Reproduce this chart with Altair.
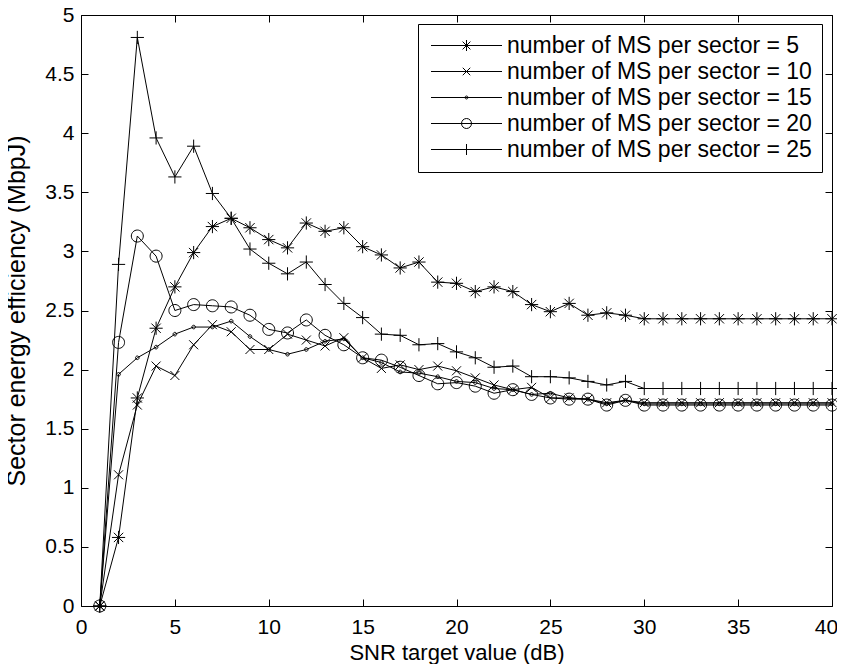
import altair as alt
import pandas as pd

# ---------------- data ----------------
snr_db = [1, 2, 3, 4, 5, 6, 7, 8, 9, 10,
          11, 12, 13, 14, 15, 16, 17, 18, 19, 20,
          21, 22, 23, 24, 25, 26, 27, 28, 29, 30,
          31, 32, 33, 34, 35, 36, 37, 38, 39, 40]

ms5 = [0.00, 0.58, 1.76, 2.35, 2.70, 2.99, 3.21, 3.28, 3.20, 3.10,
       3.03, 3.24, 3.17, 3.20, 3.04, 2.97, 2.86, 2.91, 2.74, 2.73,
       2.66, 2.70, 2.66, 2.55, 2.49, 2.56, 2.46, 2.48, 2.46, 2.43,
       2.43, 2.43, 2.43, 2.43, 2.43, 2.43, 2.43, 2.43, 2.43, 2.43]

ms10 = [0.00, 1.11, 1.70, 2.03, 1.95, 2.21, 2.38, 2.32, 2.17, 2.17,
        2.30, 2.25, 2.20, 2.27, 2.10, 2.01, 2.04, 2.00, 2.03, 1.99,
        1.93, 1.87, 1.83, 1.85, 1.76, 1.76, 1.75, 1.72, 1.74, 1.72,
        1.72, 1.72, 1.72, 1.72, 1.72, 1.72, 1.72, 1.72, 1.72, 1.72]

ms15 = [0.00, 1.96, 2.10, 2.19, 2.30, 2.36, 2.36, 2.41, 2.28, 2.17,
        2.13, 2.17, 2.24, 2.26, 2.10, 2.06, 1.98, 1.97, 1.94, 1.90,
        1.89, 1.84, 1.83, 1.79, 1.80, 1.76, 1.75, 1.71, 1.74, 1.71,
        1.71, 1.71, 1.71, 1.71, 1.71, 1.71, 1.71, 1.71, 1.71, 1.71]

ms20 = [0.00, 2.23, 3.13, 2.96, 2.50, 2.55, 2.54, 2.53, 2.46, 2.34,
        2.31, 2.42, 2.29, 2.21, 2.10, 2.08, 2.02, 1.95, 1.88, 1.89,
        1.86, 1.80, 1.83, 1.79, 1.76, 1.75, 1.75, 1.70, 1.74, 1.70,
        1.70, 1.70, 1.70, 1.70, 1.70, 1.70, 1.70, 1.70, 1.70, 1.70]

ms25 = [0.00, 2.89, 4.81, 3.96, 3.63, 3.89, 3.49, 3.28, 3.02, 2.90,
        2.81, 2.91, 2.72, 2.56, 2.44, 2.30, 2.29, 2.21, 2.22, 2.15,
        2.10, 2.02, 2.03, 1.94, 1.94, 1.93, 1.90, 1.87, 1.90, 1.84,
        1.84, 1.84, 1.84, 1.84, 1.84, 1.84, 1.84, 1.84, 1.84, 1.84]

series_labels = ["number of MS per sector = 5",
                 "number of MS per sector = 10",
                 "number of MS per sector = 15",
                 "number of MS per sector = 20",
                 "number of MS per sector = 25"]
series_values = [ms5, ms10, ms15, ms20, ms25]

x_ticks = [0, 5, 10, 15, 20, 25, 30, 35, 40]
y_ticks = [0, 0.5, 1, 1.5, 2, 2.5, 3, 3.5, 4, 4.5, 5]

# ---------------- marker shapes ----------------
asterisk = "M-1.1,0L1.1,0M0,-1.1L0,1.1M-0.78,-0.78L0.78,0.78M-0.78,0.78L0.78,-0.78"
xmark = "M-0.75,-0.75L0.75,0.75M-0.75,0.75L0.75,-0.75"
dot = "M-0.3,0A0.3,0.3 0 1,0 0.3,0A0.3,0.3 0 1,0 -0.3,0"
ring = "M-1,0A1,1 0 1,0 1,0A1,1 0 1,0 -1,0"
plus = "M-1.1,0L1.1,0M0,-1.1L0,1.1"
marker_paths = [asterisk, xmark, dot, ring, plus]
seg = "M-7.1,0L7.1,0"
legend_paths = [seg + p for p in marker_paths]

rows = []
for label, vals in zip(series_labels, series_values):
    for xv, yv in zip(snr_db, vals):
        rows.append({"snr": xv, "eff": yv, "series": label})
df = pd.DataFrame(rows)

FONT = "Liberation Sans"
FS = 21

xscale = alt.Scale(domain=[0, 40], nice=False, zero=False)
yscale = alt.Scale(domain=[0, 5], nice=False, zero=False)

tick_style = dict(
    tickSize=7, offset=-7, domain=False, grid=False, tickColor="black",
    tickWidth=1, labelColor="black", labelFont=FONT, labelFontSize=FS,
    labelFlush=False, labelOverlap=False,
)
title_style = dict(titleFont=FONT, titleFontWeight="normal", titleColor="black")

x_main = alt.X("snr:Q", scale=xscale,
               axis=alt.Axis(values=x_ticks, labelPadding=10, titlePadding=5,
                             titleFontSize=22,
                             labelOffset={"condition": {"test": "datum.value == 40",
                                                        "value": -6},
                                          "value": 0},
                             **tick_style, **title_style),
               title="SNR target value (dB)")
y_main = alt.Y("eff:Q", scale=yscale,
               axis=alt.Axis(values=y_ticks, format="~g", labelPadding=7,
                             titlePadding=15, titleFontSize=25,
                             **tick_style, **title_style),
               title="Sector energy efficiency (MbpJ)")

x_plain = alt.X("snr:Q", scale=xscale, axis=None)
y_plain = alt.Y("eff:Q", scale=yscale, axis=None)

base = alt.Chart(df)

lines = base.mark_line(color="black", strokeWidth=1).encode(
    x=x_main, y=y_main, detail="series:N")

point_layers = []
for label, path in zip(series_labels, marker_paths):
    point_layers.append(
        base.transform_filter(alt.datum.series == label)
        .mark_point(shape=path, size=144, color="black", filled=False,
                    strokeWidth=1, opacity=1)
        .encode(x=x_plain, y=y_plain)
    )

# empty layer: carries the legend and the inward ticks on top/right
legend_layer = (
    base.transform_filter("datum.snr < 0")
    .mark_point(color="black", filled=False, strokeWidth=1, opacity=1, size=100)
    .encode(
        x=alt.X("snr:Q", scale=xscale,
                axis=alt.Axis(orient="top", values=x_ticks, labels=False,
                              title=None, **tick_style)),
        y=alt.Y("eff:Q", scale=yscale,
                axis=alt.Axis(orient="right", values=y_ticks, labels=False,
                              title=None, **tick_style)),
        shape=alt.Shape(
            "series:N",
            scale=alt.Scale(domain=series_labels, range=legend_paths),
            legend=alt.Legend(
                title=None, orient="none", legendX=337, legendY=9,
                padding=10, strokeColor="black", fillColor="white",
                labelFont=FONT, labelFontSize=23, labelColor="black",
                labelLimit=600, symbolSize=100, symbolStrokeWidth=1,
                symbolStrokeColor="black", symbolFillColor="transparent",
                symbolOffset=27, labelOffset=29, rowPadding=2,
            ),
        ),
    )
)

chart = (
    alt.layer(lines, *point_layers, legend_layer)
    .resolve_axis(x="independent", y="independent")
    .properties(
        width=751, height=591,
        autosize=alt.AutoSizeParams(type="none"),
        padding={"left": 73, "top": 7, "right": 5, "bottom": 58},
        background="white",
    )
    .configure_view(stroke="black", strokeWidth=1)
)

chart.save("out.html", embed_options={"renderer": "svg", "actions": False})
